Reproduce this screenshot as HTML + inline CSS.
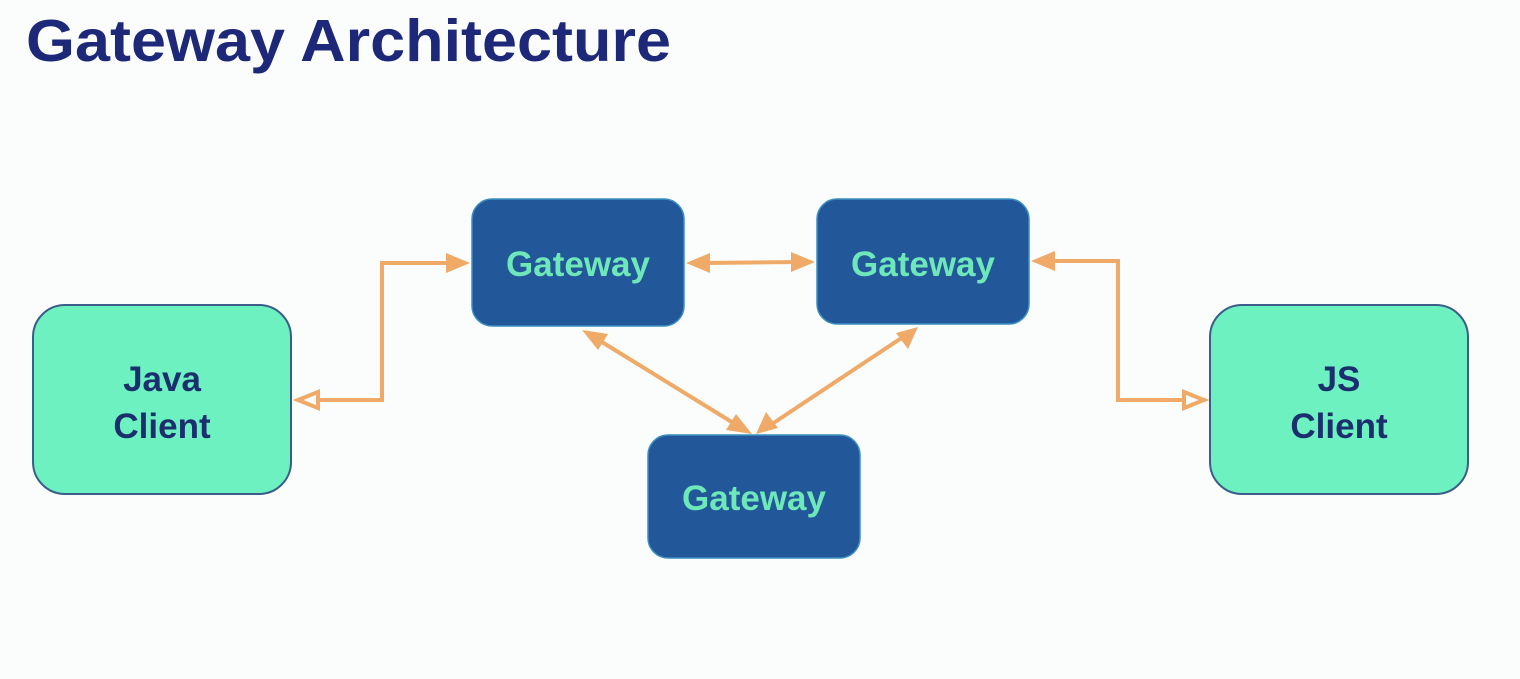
<!DOCTYPE html>
<html><head><meta charset="utf-8"><style>
html,body{margin:0;padding:0;background:#fbfdfd;}
body{width:1520px;height:674px;overflow:hidden;}
</style></head><body>
<svg width="1520" height="674" xmlns="http://www.w3.org/2000/svg" font-family="Liberation Sans, sans-serif" font-weight="bold">
<rect width="1520" height="674" fill="#fbfdfd"/>
<text x="26" y="61" font-size="59" fill="#1e2878" textLength="645" lengthAdjust="spacingAndGlyphs">Gateway Architecture</text>
<defs>
<marker id="f" viewBox="0 0 10 10" refX="9" refY="5" markerWidth="7" markerHeight="7" orient="auto-start-reverse" markerUnits="userSpaceOnUse"/>
</defs>
<g fill="none" stroke="#eeaa66" stroke-width="4">
<polyline points="312,400 382,400 382,263 450,263"/>
<line x1="705" y1="263" x2="797" y2="262"/>
<polyline points="1050,261 1118,261 1118,400 1188,400"/>
<line x1="597" y1="339" x2="735" y2="424"/>
<line x1="903" y1="337" x2="772" y2="424"/>
</g>
<g fill="#eeaa66">
<polygon points="470,263 446,253 446,273"/>
<polygon points="686,263 710,253 710,273"/>
<polygon points="815,262 791,252 791,272"/>
<polygon points="1031,261 1055,251 1055,271"/>
<polygon points="582,330 608,334 598,350"/>
<polygon points="752,434 726,430 736,414"/>
<polygon points="918,327 908,349 896,333"/>
<polygon points="756,434 766,412 778,428"/>
</g>
<g fill="#fbfdfd" stroke="#eeaa66" stroke-width="4">
<polygon points="298,400 318,392 318,408"/>
<polygon points="1204,400 1184,392 1184,408"/>
</g>
<g fill="#22589a" stroke="#3a8fc0" stroke-width="1.5">
<rect x="472" y="199" width="212" height="127" rx="20"/>
<rect x="817" y="199" width="212" height="125" rx="20"/>
<rect x="648" y="435" width="212" height="123" rx="20"/>
</g>
<g fill="#6df1c0" stroke="#3a5d8a" stroke-width="2">
<rect x="33" y="305" width="258" height="189" rx="32"/>
<rect x="1210" y="305" width="258" height="189" rx="32"/>
</g>
<g fill="#6ee8b8" font-size="35" text-anchor="middle">
<text x="578" y="276">Gateway</text>
<text x="923" y="276">Gateway</text>
<text x="754" y="510">Gateway</text>
</g>
<g fill="#1b2f6e" font-size="35" text-anchor="middle">
<text x="162" y="391">Java</text>
<text x="162" y="438">Client</text>
<text x="1339" y="391">JS</text>
<text x="1339" y="438">Client</text>
</g>
</svg>
</body></html>
